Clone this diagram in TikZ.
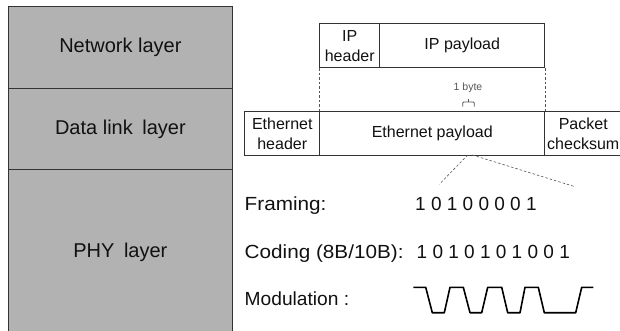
\documentclass[tikz,border=0pt]{standalone}
\usepackage{fontspec}
\setmainfont{Liberation Sans}
\definecolor{layergray}{HTML}{B2B2B2}
\definecolor{linecol}{HTML}{333333}
\definecolor{textcol}{HTML}{111111}
\definecolor{dashcol}{HTML}{555555}
\begin{document}
\begin{tikzpicture}[x=1pt,y=-1pt,
  layer/.style={draw=linecol, line width=0.8pt, fill=layergray, minimum width=224pt,
    anchor=north west, inner sep=0pt, font=\fontsize{20}{24}\selectfont, text=textcol},
  field/.style={draw=linecol, line width=0.9pt, anchor=north west, inner sep=0pt,
    align=center, font=\fontsize{16}{20}\selectfont, text=textcol},
  rowlabel/.style={anchor=base west, inner sep=0pt, font=\fontsize{19}{22}\selectfont, text=textcol},
  dashline/.style={draw=dashcol, line width=0.6pt, dash pattern=on 2.5pt off 2pt},
  wave/.style={draw=black, line width=1.6pt, line join=round}
]
\useasboundingbox (0,0) rectangle (620,331);

% layers
\node[layer, minimum height=82pt] (net) at (8,6) {Network layer};
\node[layer, minimum height=81pt] (dll) at (8,88) {Data link\hspace{0.2em} layer};
\node[layer, minimum height=166pt] (phy) at (8,169) {PHY\hspace{0.2em} layer};

% IP packet
\node[field, minimum width=60pt, minimum height=44pt] (iph) at (319.3,23.3) {IP\\header};
\node[field, minimum width=165pt, minimum height=44pt] (ipp) at (379.3,23.3) {IP payload};

% Ethernet frame
\node[field, minimum width=75pt, minimum height=44pt] (eth) at (244.3,111.3) {Ethernet\\header};
\node[field, minimum width=225pt, minimum height=44pt] (ethp) at (319.3,111.3) {Ethernet payload};
\node[field, minimum width=77pt, minimum height=44pt] (chk) at (544.3,111.3) {Packet\\checksum};

% mapping dashed lines
\draw[dashline] (iph.south west) -- (ethp.north west);
\draw[dashline] (ipp.south east) -- (ethp.north east);

% 1 byte marker
\node[font=\fontsize{10.5}{12}\selectfont, text=dashcol, inner sep=0pt] (byte) at (468,87.7) {1 byte};
\draw[draw=dashcol, line width=0.8pt, rounded corners=1pt]
  (462.7,106.7) -- (462.7,102) -- (474.3,102) -- (474.3,106.7);
\draw[draw=dashcol, line width=0.8pt] (468.5,102) -- (468.5,99);

% zoom dashed lines
\coordinate (zl1) at (467.7,155);
\coordinate (zl2) at (439.3,184.3);
\coordinate (zr1) at (472.3,155);
\coordinate (zr2) at (575,186.7);
\draw[dashline] (zl1) -- (zl2);
\draw[dashline] (zr1) -- (zr2);

% rows
\node[rowlabel, xscale=1.09] (fr) at (244.5,210) {Framing:};
\node[rowlabel, xscale=1.09] (co) at (244.5,258.5) {Coding (8B/10B):};
\node[rowlabel, xscale=1.01] (mo) at (244.5,305) {Modulation :};
\node[rowlabel] (frb) at (415,210) {1 0 1 0 0 0 0 1};
\node[rowlabel] (cob) at (416.5,258.5) {1 0 1 0 1 0 1 0 0 1};

% waveform
\draw[wave] (413.3,287.3) -- (425.7,287.3) -- (432.3,312.7) -- (444.3,312.7) -- (450,287.3)
  -- (463.3,287.3) -- (470,312.7) -- (481.7,312.7) -- (487.7,287.3)
  -- (501.7,287.3) -- (507.7,312.7) -- (520,312.7) -- (525,287.3)
  -- (538.3,287.3) -- (544.3,312.7) -- (575.7,312.7) -- (581.7,287.3) -- (593.3,287.3);
\end{tikzpicture}
\end{document}
